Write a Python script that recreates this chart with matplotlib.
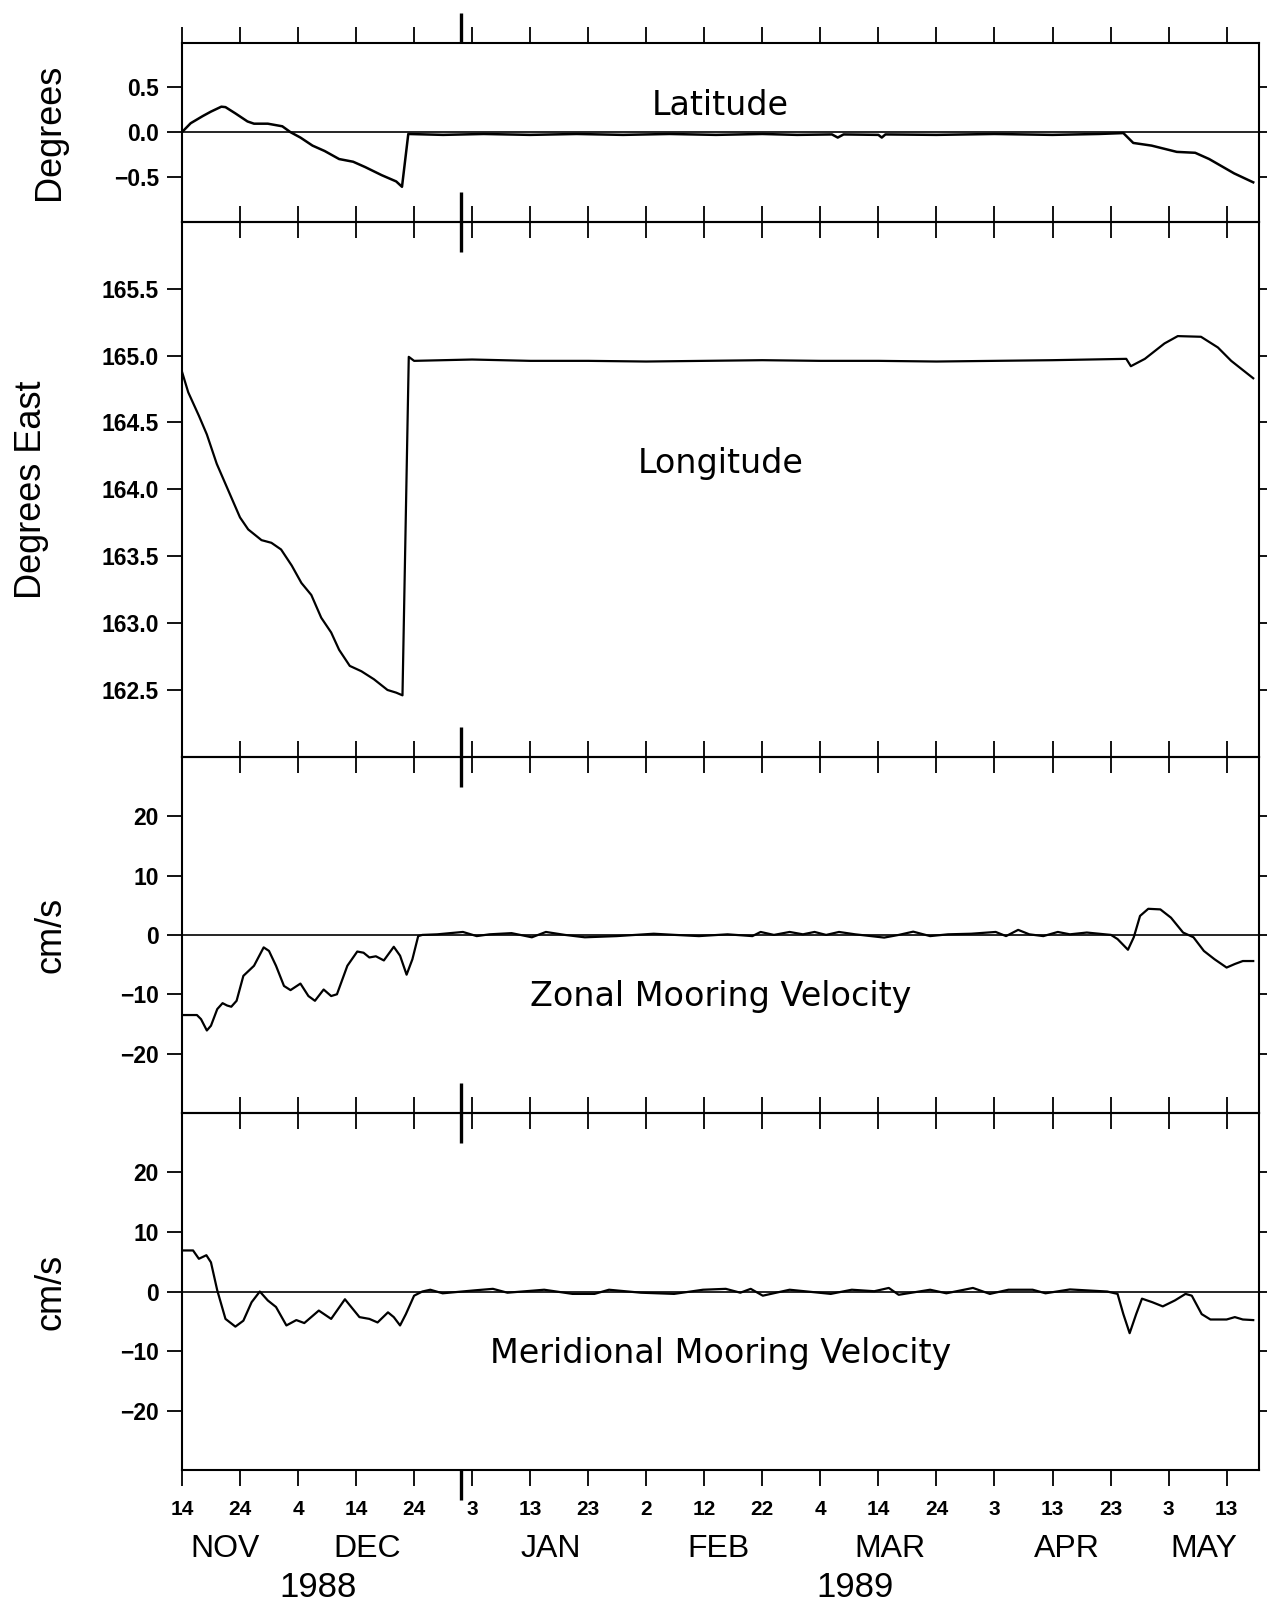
import numpy as np
import matplotlib
matplotlib.use('Agg')
import matplotlib.pyplot as plt
import matplotlib.dates as mdates
from matplotlib import font_manager as fm
from matplotlib.ticker import FixedLocator, NullFormatter

# Days are counted from 14 Nov 1988 00:00
START = np.datetime64('1988-11-14T00')

lat_day = [0, 1.5, 3.6, 5.0, 6.8, 7.5, 9.2, 11.3, 12.4, 14.8, 17.3, 18.7, 20.4, 22.5, 24.6,
           27.1, 29.5, 31.6, 34.4, 36.9, 37.9, 39.0, 45, 52, 60, 68, 76, 84, 92, 100,
           106, 112, 113, 114, 120, 120.6, 121.2, 130, 140, 150, 158, 162.2, 163.9, 167.1, 171.4,
           174.6, 177.0, 181.3, 184.6]
lat_val = [0.0, 0.10, 0.18, 0.23, 0.285, 0.28, 0.21, 0.12, 0.095, 0.095, 0.066, 0.0, -0.06, -0.15, -0.21,
           -0.30, -0.33, -0.39, -0.48, -0.55, -0.61, -0.02, -0.03, -0.02, -0.03, -0.02, -0.03, -0.02, -0.03, -0.02,
           -0.03, -0.025, -0.06, -0.025, -0.03, -0.06, -0.025, -0.03, -0.02, -0.03, -0.02, -0.01, -0.12, -0.15, -0.22,
           -0.23, -0.30, -0.46, -0.56]

lon_day = [0, 1.1, 2.9, 4.3, 6.0, 8.0, 10.0, 11.4, 13.7, 15.4, 17.1, 18.9, 20.6, 22.3, 24.0,
           25.7, 27.1, 28.9, 30.9, 33.1, 35.4, 36.9, 38.0, 39.1, 40, 50, 60, 70, 80, 90,
           100, 110, 120, 130, 140, 150, 162.7, 163.5, 165.9, 169.3, 171.6, 175.6, 178.5, 180.8, 184.6]
lon_val = [164.88, 164.725, 164.55, 164.41, 164.19, 163.99, 163.79, 163.70, 163.62, 163.60, 163.55, 163.43,
           163.30, 163.21, 163.04, 162.93, 162.80, 162.68, 162.64, 162.58, 162.50, 162.48, 162.46, 164.99,
           164.96, 164.97, 164.96, 164.96, 164.955, 164.96, 164.965, 164.96, 164.96, 164.955, 164.96, 164.965,
           164.975, 164.92, 164.975, 165.09, 165.145, 165.14, 165.06, 164.96, 164.83]

zon_day = [0, 2.6, 3.3, 4.3, 5.0, 6.1, 7.0, 7.8, 8.5, 9.4, 10.6, 12.4, 14.1, 15.0, 16.2,
           17.6, 18.7, 20.4, 21.8, 22.9, 24.4, 25.7, 26.7, 28.5, 30.2, 31.3, 32.3, 33.4, 34.8, 36.5,
           37.6, 38.7, 39.7, 40.7, 41.4, 44, 48.4, 50.8, 53, 56.8, 60.3, 62.7, 66, 69.4, 74.9,
           81.3, 85, 89.1, 94, 98.3, 99.7, 102, 104.7, 107, 109, 111, 113.2, 116, 121, 123.5,
           126, 128.9, 132, 136, 140.2, 142, 144.1, 146, 148.4, 150.9, 153, 155.9, 160.1, 161.2, 163,
           164, 165.1, 166.5, 168.6, 170.4, 172.5, 174.3, 176.1, 177.9, 180, 181.4, 182.8, 184.6]
zon_val = [-13.5, -13.5, -14.2, -16.1, -15.3, -12.5, -11.5, -11.9, -12.1, -11.1, -6.9, -5.2, -2.1, -2.7, -5.2,
           -8.6, -9.3, -8.2, -10.3, -11.1, -9.2, -10.3, -10.0, -5.2, -2.8, -3.0, -3.8, -3.6, -4.3, -2.0,
           -3.5, -6.7, -4.1, -0.2, 0.0, 0.1, 0.5, -0.2, 0.1, 0.3, -0.4, 0.5, 0.0, -0.4, -0.2,
           0.2, 0.0, -0.2, 0.1, -0.2, 0.5, 0.0, 0.5, 0.1, 0.5, 0.0, 0.5, 0.1, -0.45, 0.0,
           0.55, -0.2, 0.1, 0.2, 0.5, -0.2, 0.85, 0.1, -0.2, 0.5, 0.1, 0.4, 0.0, -0.7, -2.5,
           -0.4, 3.2, 4.4, 4.3, 2.9, 0.4, -0.4, -2.7, -4.1, -5.5, -4.9, -4.4, -4.4]

mer_day = [0, 1.9, 2.9, 4.2, 5.0, 6.1, 7.5, 9.2, 10.6, 12.0, 13.4, 14.8, 16.2, 18.0, 19.7,
           21.1, 23.6, 25.7, 28.1, 30.6, 32.3, 33.7, 35.5, 36.5, 37.6, 38.6, 40.0, 41.4, 42.8, 44.9,
           50.5, 53.6, 56.1, 62.4, 67.3, 71.1, 73.6, 79.1, 84.8, 89.8, 93.7, 96.2, 98.0, 100.1, 104.7,
           111.8, 115.4, 119.3, 121.8, 123.5, 128.9, 131.7, 136.3, 139.2, 142.4, 146.6, 148.8, 153.0, 159.4, 161.2,
           162.2, 163.3, 164.4, 165.4, 167.2, 169.0, 171.1, 172.9, 174.0, 175.7, 177.2, 180.0, 181.4, 182.8, 184.6]
mer_val = [6.9, 6.9, 5.5, 6.1, 4.9, 0.2, -4.6, -5.9, -4.9, -1.8, 0.0, -1.5, -2.6, -5.7, -4.8,
           -5.3, -3.2, -4.6, -1.3, -4.3, -4.6, -5.2, -3.5, -4.3, -5.7, -3.8, -0.7, 0.0, 0.3, -0.3,
           0.2, 0.45, -0.2, 0.3, -0.4, -0.4, 0.3, -0.2, -0.4, 0.3, 0.45, -0.2, 0.45, -0.7, 0.3,
           -0.4, 0.3, 0.05, 0.6, -0.55, 0.3, -0.3, 0.6, -0.4, 0.3, 0.3, -0.3, 0.35, 0.0, -0.4,
           -3.8, -7.0, -3.8, -1.2, -1.8, -2.5, -1.5, -0.4, -0.7, -3.8, -4.7, -4.7, -4.3, -4.7, -4.8]

tick_dates = ['1988-11-14', '1988-11-24', '1988-12-04', '1988-12-14', '1988-12-24',
              '1989-01-03', '1989-01-13', '1989-01-23', '1989-02-02', '1989-02-12', '1989-02-22',
              '1989-03-04', '1989-03-14', '1989-03-24', '1989-04-03', '1989-04-13', '1989-04-23',
              '1989-05-03', '1989-05-13']
tick_labels = ['14', '24', '4', '14', '24', '3', '13', '23', '2', '12', '22',
               '4', '14', '24', '3', '13', '23', '3', '13']
break_date = '1989-01-01'
x_end = '1989-05-18T14'

month_dates = ['1988-11-21T12', '1988-12-16T00', '1989-01-16T12', '1989-02-14T12',
               '1989-03-16T00', '1989-04-15T12', '1989-05-09T00']
month_labels = ['NOV', 'DEC', 'JAN', 'FEB', 'MAR', 'APR', 'MAY']
year_dates = ['1988-12-07T12', '1989-03-10T00']
year_labels = ['1988', '1989']

MINUS = '\u2212'


def to_dates(days):
    hours = np.round(np.asarray(days, dtype=float) * 24).astype(int)
    return START + hours.astype('timedelta64[h]')


def dnum(s):
    return mdates.date2num(np.datetime64(s))


def narrow_font():
    # the original lettering is condensed; use a narrow face if there is one
    try:
        fm.findfont(fm.FontProperties(family='Liberation Sans Narrow'), fallback_to_default=False)
        return 'Liberation Sans Narrow'
    except ValueError:
        return None


def main():

    narrow = narrow_font()
    if narrow:
        date_font = dict(family=narrow)
        month_size, year_size = 27, 28
    else:
        date_font = dict(family='Liberation Sans')
        month_size, year_size = 23, 25

    panels = [
        dict(days=lat_day, vals=lat_val, ylim=(-1, 1), yticks=[-0.5, 0, 0.5],
             ylabels=[MINUS + '0.5', '0.0', '0.5'], name='Degrees', name_x=-0.123,
             title='Latitude', title_y=0.596, zero=True, lw=1.8),
        dict(days=lon_day, vals=lon_val, ylim=(162, 166), yticks=[162.5, 163, 163.5, 164, 164.5, 165, 165.5],
             ylabels=['162.5', '163.0', '163.5', '164.0', '164.5', '165.0', '165.5'],
             name='Degrees East', name_x=-0.140, title='Longitude', title_y=0.53, zero=False, lw=1.6),
        dict(days=zon_day, vals=zon_val, ylim=(-30, 30), yticks=[-20, -10, 0, 10, 20],
             ylabels=[MINUS + '20', MINUS + '10', '0', '10', '20'], name='cm/s', name_x=-0.122,
             title='Zonal Mooring Velocity', title_y=0.299, zero=True, lw=1.6),
        dict(days=mer_day, vals=mer_val, ylim=(-30, 30), yticks=[-20, -10, 0, 10, 20],
             ylabels=[MINUS + '20', MINUS + '10', '0', '10', '20'], name='cm/s', name_x=-0.122,
             title='Meridional Mooring Velocity', title_y=0.30, zero=True, lw=1.6),
    ]

    fig = plt.figure(figsize=(12.67, 16.04), dpi=100)
    gs = fig.add_gridspec(4, 1, height_ratios=[179, 535, 356, 357], left=0.1436, right=0.9937,
                          top=0.9734, bottom=0.0835, hspace=0)

    x0 = dnum(START)
    x1 = dnum(x_end)
    major = [dnum(d) for d in tick_dates]

    for i, p in enumerate(panels):
        ax = fig.add_subplot(gs[i])
        ax.patch.set_visible(False)   # so ticks of the neighbour panel stay visible
        last = (i == len(panels) - 1)

        if p['zero']:
            ax.axhline(0, color='k', lw=1.2, zorder=1)
        ax.plot(to_dates(p['days']), p['vals'], color='k', lw=p['lw'], zorder=2,
                solid_joinstyle='round')

        ax.set_xlim(x0, x1)
        ax.set_ylim(*p['ylim'])

        # y axis
        ax.set_yticks(p['yticks'])
        ax.set_yticklabels(p['ylabels'], fontsize=16.5, fontweight='bold', family='Liberation Sans')
        ax.tick_params(axis='y', direction='out', length=10.5, width=1.3, left=True, right=True,
                       labelright=False, pad=6)

        # x axis, ticks on top and bottom of every panel, long mark for the year break
        ax.xaxis.set_major_locator(FixedLocator(major))
        ax.xaxis.set_minor_locator(FixedLocator([dnum(break_date)]))
        ax.xaxis.set_minor_formatter(NullFormatter())
        if last:
            ax.set_xticklabels(tick_labels, fontsize=15, fontweight='bold', family='Liberation Sans')
        ax.tick_params(axis='x', which='major', direction='out', length=11.5, width=1.3,
                       top=True, bottom=True, labelbottom=last, pad=10)
        ax.tick_params(axis='x', which='minor', direction='out', length=21.5, width=2.4,
                       top=True, bottom=True)

        for s in ax.spines.values():
            s.set_linewidth(1.5)

        ax.text(0.5, p['title_y'], p['title'], transform=ax.transAxes, ha='center',
                va='baseline', fontsize=24, family='DejaVu Sans')
        ax.text(p['name_x'], 0.5, p['name'], transform=ax.transAxes, rotation=90,
                ha='center', va='center', fontsize=26, family='Liberation Sans')

        if last:
            for d, m in zip(month_dates, month_labels):
                ax.annotate(m, xy=(dnum(d), 0), xycoords=('data', 'axes fraction'),
                            xytext=(0, -62.4), textcoords='offset points', ha='center',
                            va='baseline', fontsize=month_size, annotation_clip=False,
                            **date_font)
            for d, y in zip(year_dates, year_labels):
                ax.annotate(y, xy=(dnum(d), 0), xycoords=('data', 'axes fraction'),
                            xytext=(0, -91.2), textcoords='offset points', ha='center',
                            va='baseline', fontsize=year_size, annotation_clip=False,
                            **date_font)

    fig.savefig('out.png', dpi=100)


if __name__ == '__main__':
    main()
